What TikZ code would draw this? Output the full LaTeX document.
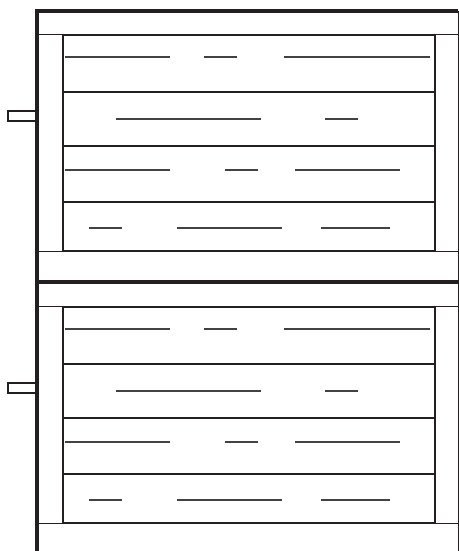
\documentclass[tikz,border=0pt]{standalone}
\definecolor{inkdark}{RGB}{35,31,32}
\tikzset{
  outer/.style={draw=inkdark, line width=2.6pt},
  panel/.style={draw=inkdark, line width=1.7pt},
  band/.style={draw=inkdark, line width=0.8pt},
  grain/.style={draw=inkdark!85, line width=1.2pt},
  handle/.style={draw=inkdark, line width=1.2pt, fill=white},
}
\begin{document}
\begin{tikzpicture}[x=0.03cm, y=-0.03cm]
  \useasboundingbox (0,0) rectangle (459,551);
  \draw[band] (458,11) -- (458,551);
  % two drawer units, same layout shifted down
  \foreach \dy in {0,272} {
    \begin{scope}[shift={(0,\dy)}]
      \draw[band] (37,34) -- (458,34);
      \draw[band] (37,251) -- (458,251);
      \draw[panel] (63,35) rectangle (435,251);
      \foreach \ry in {92,146,202}
        \draw[panel] (63,\ry) -- (435,\ry);
      \foreach \gy/\ga/\gb in {57/65/170, 57/204/237, 57/284/430,
                               119/116/261, 119/325/358,
                               170/65/170, 170/225/258, 170/295/400,
                               228/89/122, 228/177/282, 228/321/390}
        \draw[grain] (\ga,\gy) -- (\gb,\gy);
      \draw[handle] (8,111) rectangle (36,121);
    \end{scope}
  }
  \draw[outer] (37,551) -- (37,11) -- (458,11);
  \draw[outer] (37,282) -- (458,282);
\end{tikzpicture}
\end{document}
